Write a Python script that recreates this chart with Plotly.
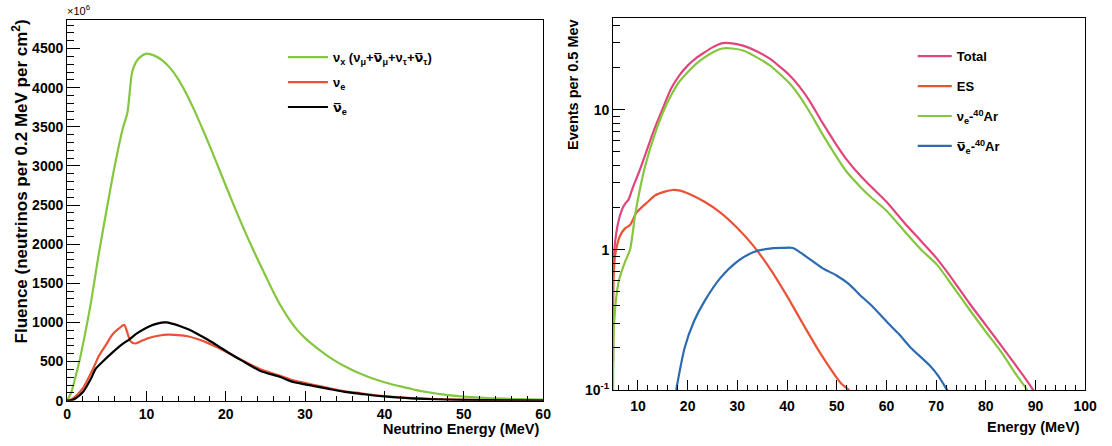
import plotly.graph_objects as go

# ---------------- Left panel: supernova neutrino fluence ----------------
# Neutrino energy (MeV) and fluence (x10^6 neutrinos per 0.2 MeV per cm^2)
nux_energy = [0, 0.5, 1, 1.5, 2, 3, 4, 5, 6, 7, 7.6, 8.2, 8.7, 9.2, 10, 11, 12, 13, 14, 15,
              16, 17, 18, 19, 20, 21, 22, 23, 24, 25, 26, 27, 28, 29, 30, 31, 32, 33, 34,
              35, 36, 37, 38, 39, 40, 41, 42, 43, 44, 45, 46, 47, 48, 50, 52, 55, 58, 60]
nux_fluence = [0, 100, 280, 480, 720, 1250, 1880, 2450, 3000, 3470, 3680, 4200, 4330, 4390,
               4435, 4410, 4350, 4250, 4110, 3930, 3720, 3490, 3250, 3000, 2750, 2500, 2260,
               2030, 1810, 1600, 1390, 1200, 1040, 905, 800, 712, 632, 560, 496, 439, 388,
               343, 303, 267, 235, 207, 182, 160, 135, 116, 99, 84, 71, 51, 38, 26, 18, 15]

nue_energy = [0, 0.5, 1, 2, 3, 3.6, 4, 5, 5.7, 6.5, 7.2, 7.5, 8.0, 8.6, 9.3, 10.3, 11.5,
              12.75, 14, 15.2, 16.5, 17.7, 19, 20.2, 22, 24.3, 26.8, 28.5, 31, 33, 35, 37,
              39.3, 41, 43.4, 45, 47.5, 50, 55, 60]
nue_fluence = [0, 15, 50, 160, 350, 480, 570, 730, 843, 920, 969, 900, 760, 731, 760, 802,
               830, 843, 838, 823, 785, 739, 680, 614, 520, 405, 320, 259, 204, 160, 120, 95,
               65, 50, 33, 26, 18, 12, 6, 3]

nuebar_energy = [0, 0.5, 1, 2, 3, 3.6, 4.5, 5.7, 6.8, 7.8, 8.8, 9.9, 11, 11.9, 12.5, 13.2,
                 14.2, 15.2, 16.5, 17.7, 19, 20.2, 22, 24.3, 26.8, 28.5, 31, 33, 35, 37, 39.3,
                 41, 43.4, 45, 47.5, 50, 55, 60]
nuebar_fluence = [0, 5, 25, 110, 280, 405, 500, 614, 710, 781, 860, 927, 975, 998, 1000, 985,
                  955, 915, 850, 781, 700, 623, 515, 384, 305, 238, 190, 150, 113, 88, 60, 45,
                  30, 22, 15, 10, 4, 2]

left_xticks = [0, 10, 20, 30, 40, 50, 60]
left_yticks = [0, 500, 1000, 1500, 2000, 2500, 3000, 3500, 4000, 4500]

# ---------------- Right panel: event spectra in argon ----------------
total_energy = [5.0, 5.3, 6.0, 6.8, 7.5, 8.1, 9, 10.1, 11.5, 13.4, 15, 16.7, 18.3, 20, 21.7,
                23.4, 25, 27, 29, 31.3, 34, 36.6, 38.5, 40.5, 42.5, 44.5, 47, 49.8, 52, 55,
                57, 60, 63.6, 67, 70.2, 73.5, 76.8, 80, 83.4, 86, 88, 89.5, 90.5]
total_events = [0.68, 1.05, 1.55, 1.94, 2.15, 2.28, 2.8, 3.5, 4.8, 7.4, 10.2, 14.2, 17.5,
                20.6, 23.3, 25.6, 27.8, 29.8, 29.7, 28.5, 26, 23, 20.3, 17.6, 14.6, 11.6,
                8.2, 5.7, 4.4, 3.3, 2.8, 2.2, 1.56, 1.15, 0.86, 0.6, 0.41, 0.29, 0.20,
                0.15, 0.12, 0.1, 0.085]

es_energy = [5.0, 5.1, 5.4, 6.4, 7.4, 8.4, 9.7, 12, 13.5, 15.4, 17, 18.5, 20, 23.4, 26.6,
             29.9, 33.2, 36.5, 39.8, 43.1, 46.4, 49.8, 51, 52.4, 53.5]
es_events = [0.16, 0.63, 0.91, 1.26, 1.42, 1.5, 1.84, 2.2, 2.45, 2.6, 2.67, 2.64, 2.53, 2.2,
             1.84, 1.44, 1.07, 0.74, 0.48, 0.30, 0.19, 0.125, 0.11, 0.1, 0.085]

nue_ar_energy = [5.0, 5.2, 6.1, 7.0, 7.4, 8.4, 9.4, 10.2, 11.4, 13.4, 15, 16.7, 18.3, 20,
                 21.7, 23.4, 25, 27, 29, 31.3, 34, 36.6, 38.5, 40.5, 42.5, 44.5, 47, 49.8,
                 52, 55, 57, 60, 63.6, 67, 70.2, 73.5, 76.8, 80, 83.4, 86, 88.3, 89.3]
nue_ar_events = [0.1, 0.3, 0.59, 0.75, 0.82, 1.0, 1.74, 2.5, 3.9, 6.7, 9.5, 12.7, 15.8, 18.5,
                 21.2, 23.6, 25.6, 27.3, 27.3, 26.3, 23.5, 20.6, 18, 15.4, 12.5, 9.7, 6.8,
                 4.7, 3.6, 2.75, 2.35, 1.9, 1.36, 1.0, 0.78, 0.54, 0.37, 0.26, 0.18, 0.13,
                 0.1, 0.085]

nuebar_ar_energy = [17.7, 19.4, 21.3, 23.4, 26.6, 29.9, 33.2, 36.5, 39, 41.2, 42.8, 44.5,
                    47.1, 49.8, 52.4, 55.1, 57, 60.3, 62.5, 64.9, 68.9, 70.5, 72.2, 73]
nuebar_ar_events = [0.1, 0.2, 0.31, 0.43, 0.63, 0.82, 0.96, 1.02, 1.03, 1.03, 0.95, 0.86,
                    0.74, 0.66, 0.57, 0.46, 0.40, 0.30, 0.25, 0.20, 0.147, 0.125, 0.1, 0.09]

right_xticks = [10, 20, 30, 40, 50, 60, 70, 80, 90, 100]
right_xminor = [6, 8, 12, 14, 16, 18, 22, 24, 26, 28, 32, 34, 36, 38, 42, 44, 46, 48, 52, 54,
                56, 58, 62, 64, 66, 68, 72, 74, 76, 78, 82, 84, 86, 88, 92, 94, 96, 98]
right_yticks = [0.1, 1, 10]
right_ytext = ["10<sup>-1</sup>", "1", "10"]
right_yminor = [0.2, 0.3, 0.4, 0.5, 0.6, 0.7, 0.8, 0.9, 2, 3, 4, 5, 6, 7, 8, 9, 20, 30, 40]

GREEN = "#84c63e"
RED = "#ea5236"
PINK = "#e0457d"
BLUE = "#2c6bb2"
FONT = "Liberation Sans"
LW = 2.2
# anti-neutrino symbol: nu with a combining overline, set in a font with mark positioning
NUBAR = "<span style=\"font-family:'DejaVu Sans'\">ν\u0305</span>"


def line(color):
    return dict(color=color, width=LW, shape="spline", smoothing=0.7)


fig = go.Figure()

fig.add_trace(go.Scatter(x=nux_energy, y=nux_fluence, mode="lines", line=line(GREEN),
                         legend="legend", legendgroup="a",
                         name=("ν<sub>x</sub> (ν<sub>μ</sub>+" + NUBAR + "<sub>μ</sub>+ν<sub>τ</sub>+"
                               + NUBAR + "<sub>τ</sub>)"),
                         xaxis="x", yaxis="y"))
fig.add_trace(go.Scatter(x=nue_energy, y=nue_fluence, mode="lines", line=line(RED),
                         legend="legend", legendgroup="b",
                         name="ν<sub>e</sub>", xaxis="x", yaxis="y"))
fig.add_trace(go.Scatter(x=nuebar_energy, y=nuebar_fluence, mode="lines", line=line("black"),
                         legend="legend", legendgroup="c",
                         name=NUBAR + "<sub>e</sub>", xaxis="x", yaxis="y"))

fig.add_trace(go.Scatter(x=total_energy, y=total_events, mode="lines", line=line(PINK),
                         legend="legend2", legendgroup="d",
                         name="Total", xaxis="x2", yaxis="y2"))
fig.add_trace(go.Scatter(x=es_energy, y=es_events, mode="lines", line=line(RED),
                         legend="legend2", legendgroup="e",
                         name="ES", xaxis="x2", yaxis="y2"))
fig.add_trace(go.Scatter(x=nue_ar_energy, y=nue_ar_events, mode="lines", line=line(GREEN),
                         legend="legend2", legendgroup="f",
                         name="ν<sub>e</sub>-<sup>40</sup>Ar", xaxis="x2", yaxis="y2"))
fig.add_trace(go.Scatter(x=nuebar_ar_energy, y=nuebar_ar_events, mode="lines", line=line(BLUE),
                         legend="legend2", legendgroup="g",
                         name=NUBAR + "<sub>e</sub>-<sup>40</sup>Ar", xaxis="x2", yaxis="y2"))

W, H = 1112, 446


def px_x(p):
    return p / W


def px_y(p):
    return 1 - p / H


tickfont = dict(family=FONT, size=14, color="black", weight="bold")
frame = dict(showline=True, linecolor="black", linewidth=1, mirror=True,
             showgrid=False, zeroline=False, ticks="inside", tickcolor="black",
             tickfont=tickfont)

fig.update_layout(
    width=W, height=H,
    margin=dict(l=0, r=0, t=0, b=0),
    paper_bgcolor="white", plot_bgcolor="white",
    font=dict(family=FONT, color="black"),
    xaxis=dict(domain=[px_x(64), px_x(547)], range=[0, 60], anchor="y",
               tickvals=left_xticks, ticklen=10, ticklabelstandoff=1,
               minor=dict(dtick=2, tick0=0, ticks="inside", ticklen=5, tickcolor="black"),
               **frame),
    yaxis=dict(domain=[px_y(408), px_y(20)], range=[0, 4870], anchor="x",
               tickvals=left_yticks, ticklen=13,
               minor=dict(dtick=100, tick0=0, ticks="inside", ticklen=7, tickcolor="black"),
               **frame),
    xaxis2=dict(domain=[px_x(618), px_x(1097)], range=[5, 100], anchor="y2",
                tickvals=right_xticks, ticklen=10, ticklabelstandoff=3,
                minor=dict(tickmode="array", tickvals=right_xminor, ticks="inside",
                           ticklen=5, tickcolor="black"),
                **frame),
    yaxis2=dict(domain=[px_y(397), px_y(18)], type="log", range=[-1, 1.656], anchor="x2",
                tickvals=right_yticks, ticktext=right_ytext, ticklen=12,
                minor=dict(tickmode="array", tickvals=right_yminor, ticks="inside",
                           ticklen=7, tickcolor="black"),
                **frame),
    legend=dict(x=px_x(283), y=px_y(43), xanchor="left", yanchor="top",
                bgcolor="rgba(0,0,0,0)", traceorder="grouped", tracegroupgap=5,
                itemwidth=40,
                font=dict(family=FONT, size=13, color="black", weight="bold")),
    legend2=dict(x=px_x(922), y=px_y(42), xanchor="left", yanchor="top",
                 bgcolor="rgba(0,0,0,0)", traceorder="grouped", tracegroupgap=10,
                 itemwidth=34,
                 font=dict(family=FONT, size=13, color="black", weight="bold")),
    showlegend=True,
)

title_font = dict(family=FONT, size=14.5, color="black", weight="bold")
fig.add_annotation(text="Fluence (neutrinos per 0.2 MeV per cm<sup>2</sup>)",
                   xref="paper", yref="paper", x=px_x(16), y=px_y(18),
                   xanchor="center", yanchor="top", textangle=-90, showarrow=False,
                   font=dict(family=FONT, size=17, color="black", weight="bold"))
fig.add_annotation(text="×10<sup>6</sup>", xref="paper", yref="paper",
                   x=px_x(62), y=px_y(19), xanchor="left", yanchor="bottom",
                   showarrow=False, font=dict(family=FONT, size=11, color="black"))
fig.add_annotation(text="Neutrino Energy (MeV)", xref="paper", yref="paper",
                   x=px_x(545), y=px_y(437), xanchor="right", yanchor="middle",
                   showarrow=False, font=title_font)
fig.add_annotation(text="Events per 0.5 Mev", xref="paper", yref="paper",
                   x=px_x(577), y=px_y(17), xanchor="center", yanchor="top",
                   textangle=-90, showarrow=False, font=title_font)
fig.add_annotation(text="Energy (MeV)", xref="paper", yref="paper",
                   x=px_x(1094), y=px_y(435), xanchor="right", yanchor="middle",
                   showarrow=False, font=title_font)

fig.write_html("out.html")
